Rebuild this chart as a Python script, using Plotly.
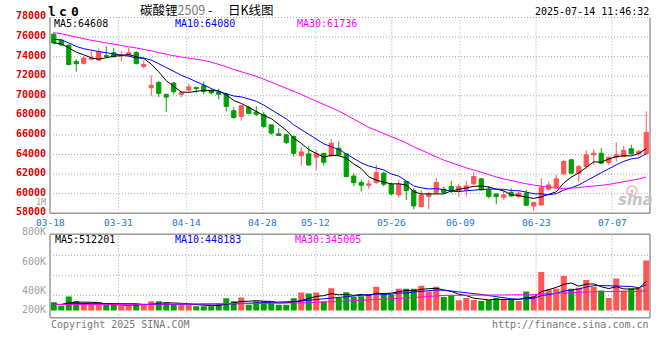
import plotly.graph_objects as go

W, H = 660, 360

# ---------------- data ----------------
dates = ["03-18","03-19","03-20","03-21","03-24","03-25","03-26","03-27","03-28","03-31",
         "04-01","04-02","04-03","04-07","04-08","04-09","04-10","04-11","04-14",
         "04-15","04-16","04-17","04-18","04-21","04-22","04-23","04-24","04-25","04-28",
         "04-29","04-30","05-06","05-07","05-08","05-09","05-12",
         "05-13","05-14","05-15","05-16","05-19","05-20","05-21","05-22","05-23","05-26",
         "05-27","05-28","05-29","05-30","06-03","06-04","06-05","06-06","06-09",
         "06-10","06-11","06-12","06-13","06-16","06-17","06-18","06-19","06-20","06-23",
         "06-24","06-25","06-26","06-27","06-30","07-01","07-02","07-03","07-04","07-07",
         "07-08","07-09","07-10","07-11","07-14"]
tick_labels = ["03-18","03-31","04-14","04-28","05-12","05-26","06-09","06-23","07-07"]

opens = [76300,75700,75180,73500,73310,73730,73650,74100,74400,74060,
         74160,74430,73000,70830,71370,70150,71300,70150,70590,70860,
         71040,70560,70390,70190,68480,67900,68820,68340,68070,67040,
         66120,66020,65840,63890,64070,63720,64130,63860,64650,64070,
         61810,61140,60870,61140,62100,60970,59880,61250,60330,58680,
         59710,60120,60460,60730,60220,60390,61010,61520,60390,59980,
         59640,60120,59710,60050,58750,58850,60460,60660,62030,63460,
         62100,62780,63970,64140,63190,63730,63800,64590,64080,64080]
highs = [76450,75750,75250,73720,74060,74570,74840,75050,74900,74570,
         74910,74570,73620,72090,71500,70200,71440,70560,71240,70900,
         71450,70730,70700,70320,68820,69100,68990,68920,68380,67040,
         66700,66120,65950,64750,64890,64480,64130,65600,65330,64100,
         62080,61420,61420,62960,62270,61140,61420,61250,60560,60390,
         60220,61590,60730,61320,61000,61320,62170,61520,60800,59980,
         60320,60560,60220,60390,59200,61590,61240,61930,63460,63560,
         62950,64420,64550,64650,63730,65240,64890,65000,64480,68410]
lows = [75250,75100,73100,72460,73200,73650,73600,73950,73950,73550,
        74090,73200,72830,70000,69870,68340,70150,69870,70420,70290,
        70190,70120,69640,68410,67650,67450,68130,67900,66700,66020,
        65880,65060,63790,62870,62830,62420,62870,63790,63860,61700,
        60780,60220,60500,61000,60730,59810,59600,59370,58410,58610,
        58410,59980,59980,60050,59710,59710,60900,60320,59540,58920,
        59370,59710,59540,58750,58270,58750,60320,60560,61930,62030,
        61240,62510,62950,63050,62920,63290,63730,63970,63800,64080]
closes = [75400,75200,73200,73280,73860,73860,74500,74030,73990,74200,
          74400,73310,73200,71070,70250,69870,70420,70320,70900,70730,
          70430,70290,70150,68920,67790,68990,68200,68130,66870,66190,
          65950,65230,64130,64270,62940,64100,63210,65160,63960,61740,
          61130,60870,61000,62170,60970,59980,60970,60330,58750,59880,
          59980,61140,60120,60320,60730,60800,61760,60390,59710,59710,
          59880,59770,60050,58820,59090,60660,60900,61520,63290,62100,
          62780,63970,64140,63120,63730,63970,64420,64080,64310,66260]
volumes = [144000,82000,246000,161000,99000,99000,99000,99000,99000,82000,
           82000,121000,99000,161000,161000,138000,99000,99000,99000,76000,
           76000,76000,110000,212000,161000,229000,99000,161000,161000,144000,
           99000,99000,212000,314000,297000,314000,161000,387000,218000,319000,
           235000,251000,280000,415000,297000,274000,382000,382000,382000,433000,
           330000,415000,235000,263000,178000,218000,183000,167000,183000,218000,
           201000,201000,167000,330000,263000,675000,365000,382000,602000,382000,
           398000,534000,415000,348000,218000,560000,348000,390000,390000,873000]

# sessions before 03-18 (only used so the moving averages start at the left edge)
prior_closes = [78200,78600,78900,78400,78700,78300,78500,78800,78100,77200,
                76900,76600,76500,75800,75200,74600,74300,74200,74100,74000,
                75600,76400,76800,76200,75500,75800,75200,75500,75200]
prior_volumes = [105000,98000,112000,95000,108000,101000,97000,110000,103000,99000,
                 106000,94000,102000,109000,96000,104000,100000,107000,98000,103000,
                 95000,111000,99000,104000,97000,102000,108000,96000,100000]

# legend readouts as printed on the chart
price_ma_text = ["MA5:64608", "MA10:64080", "MA30:61736"]
vol_ma_text = ["MA5:512201", "MA10:448183", "MA30:345005"]

n = len(dates)
xs = list(range(n))


def moving_avg(vals, prior, w):
    full = prior + vals
    out = []
    for i in range(len(vals)):
        j = len(prior) + i
        seg = full[j - w + 1:j + 1]
        out.append(sum(seg) / w)
    return out


ma5 = moving_avg(closes, prior_closes, 5)
ma10 = moving_avg(closes, prior_closes, 10)
ma30 = moving_avg(closes, prior_closes, 30)
vma5 = moving_avg(volumes, prior_volumes, 5)
vma10 = moving_avg(volumes, prior_volumes, 10)
vma30 = moving_avg(volumes, prior_volumes, 30)

RED = "#ff5555"
GREEN = "#00a000"
vol_colors = [RED if c >= o else GREEN for o, c in zip(opens, closes)]

# ---------------- geometry (pixels) ----------------
L, R = 50, 650
P_TOP, P_BOT = 17.5, 213.3
V_TOP, V_BOT = 234.3, 317.7
V_ZERO = 310.5
V_SCALE = 0.0572 / 1000.0  # px per unit volume


def fx(px):
    return px / W


def fy(py):
    return 1 - py / H


fig = go.Figure()

fig.add_trace(go.Candlestick(
    x=xs, open=opens, high=highs, low=lows, close=closes,
    increasing=dict(line=dict(color=RED, width=1), fillcolor=RED),
    decreasing=dict(line=dict(color=GREEN, width=1), fillcolor=GREEN),
    whiskerwidth=0, hovertext=dates, showlegend=False, xaxis="x", yaxis="y"))

for vals, col in [(ma5, "#000000"), (ma10, "#0000ff"), (ma30, "#ff00ff")]:
    fig.add_trace(go.Scatter(x=xs, y=vals, mode="lines", line=dict(color=col, width=1),
                             showlegend=False, hoverinfo="skip", xaxis="x", yaxis="y"))

fig.add_trace(go.Bar(x=xs, y=volumes, marker=dict(color=vol_colors, line=dict(width=0)),
                     showlegend=False, xaxis="x", yaxis="y2"))
for vals, col in [(vma5, "#000000"), (vma10, "#0000ff"), (vma30, "#ff00ff")]:
    fig.add_trace(go.Scatter(x=xs, y=vals, mode="lines", line=dict(color=col, width=1),
                             showlegend=False, hoverinfo="skip", xaxis="x", yaxis="y2"))

v_top_val = (V_ZERO - V_TOP) / V_SCALE
v_bot_val = -(V_BOT - V_ZERO) / V_SCALE

fig.update_layout(
    width=W, height=H, margin=dict(l=0, r=0, t=0, b=0),
    paper_bgcolor="white", plot_bgcolor="white",
    showlegend=False, bargap=0.2, boxgap=0.2,
    xaxis=dict(domain=[fx(L), fx(R)], range=[-0.5, n - 0.5], visible=False,
               rangeslider=dict(visible=False), fixedrange=True),
    yaxis=dict(domain=[fy(P_BOT), fy(P_TOP)], range=[58000, 78000], visible=False),
    yaxis2=dict(domain=[fy(V_BOT), fy(V_TOP)], range=[v_bot_val, v_top_val], visible=False,
                anchor="x"),
)

GRID = dict(color="#a8a8a8", width=1, dash="1px,2px")
FRAME = dict(color="#9a9a9a", width=1.5)
shapes = []
# horizontal price grid
for v in range(60000, 78000, 2000):
    shapes.append(dict(type="line", xref="paper", yref="y", x0=fx(L), x1=fx(R), y0=v, y1=v,
                       line=GRID, layer="below"))
# vertical grid at date ticks
for lab in tick_labels[1:]:
    d = dates.index(lab)
    px = L + d * (R - L) / (n - 1)
    shapes.append(dict(type="line", xref="paper", yref="paper", x0=fx(px), x1=fx(px),
                       y0=fy(P_BOT), y1=fy(P_TOP), line=GRID, layer="below"))
    shapes.append(dict(type="line", xref="paper", yref="paper", x0=fx(px), x1=fx(px),
                       y0=fy(V_BOT), y1=fy(V_TOP), line=GRID, layer="below"))
# volume horizontal grid
for py in [255.3, 275.3, 295.3]:
    shapes.append(dict(type="line", xref="paper", yref="paper", x0=fx(L), x1=fx(R),
                       y0=fy(py), y1=fy(py), line=GRID, layer="below"))
# frames
shapes.append(dict(type="line", xref="paper", yref="paper", x0=fx(L), x1=fx(R),
                   y0=fy(P_TOP), y1=fy(P_TOP), line=GRID))
for seg in [(L, P_TOP, L, P_BOT), (R, P_TOP, R, P_BOT), (L, P_BOT, R, P_BOT),
            (L, V_TOP, R, V_TOP), (L, V_BOT, R, V_BOT), (L, V_TOP, L, V_BOT), (R, V_TOP, R, V_BOT)]:
    shapes.append(dict(type="line", xref="paper", yref="paper", x0=fx(seg[0]), x1=fx(seg[2]),
                       y0=fy(seg[1]), y1=fy(seg[3]), line=FRAME))
# sina logo eye
shapes.append(dict(type="circle", xref="paper", yref="paper", x0=fx(627), x1=fx(637),
                   y0=fy(196), y1=fy(186), line=dict(color="#f3b0b0", width=1.5)))
shapes.append(dict(type="circle", xref="paper", yref="paper", x0=fx(630.5), x1=fx(633.5),
                   y0=fy(192.5), y1=fy(189.5), fillcolor="#f3b0b0", line=dict(width=0)))
fig.update_layout(shapes=shapes)

MONO = "DejaVu Sans Mono"
ann = []


def text(t, px, py, size=10, color="#000", xanchor="left", bold=False, family=MONO, italic=False):
    if bold:
        t = "<b>" + t + "</b>"
    if italic:
        t = "<i>" + t + "</i>"
    ann.append(dict(text=t, x=fx(px), y=fy(py), xref="paper", yref="paper", showarrow=False,
                    xanchor=xanchor, yanchor="middle", font=dict(family=family, size=size, color=color),
                    borderpad=0))


# lc0
for ch, cx in [("l", 51.7), ("c", 63.3), ("0", 75.0)]:
    text(ch, cx, 11.0, size=13, xanchor="center", bold=True)
# title
text("碳酸锂<span style='color:#7a7a7a'>2509</span> -", 139, 9.0, size=12.5,
     family="Noto Sans CJK SC")
text("日K线图", 227, 9.0, size=12.5, family="Noto Sans CJK SC")
# time stamp
text("2025-07-14 11:46:32", 650, 11.5, size=10, xanchor="right")
# price legend
text(price_ma_text[0], 53, 23.5, color="#000000")
text(price_ma_text[1], 174, 23.5, color="#0000ff")
text(price_ma_text[2], 296, 23.5, color="#ff00ff")
# volume legend
text(vol_ma_text[0], 54, 239, color="#000000")
text(vol_ma_text[1], 174, 239, color="#0000ff")
text(vol_ma_text[2], 294, 239, color="#ff00ff")
# price axis labels
for v in range(58000, 78001, 2000):
    py = P_BOT - (v - 58000) / 20000 * (P_BOT - P_TOP) - 1.5
    text(str(v), 46.5, py, size=10, color="#e00000", xanchor="right", bold=True)
text("1M", 46.5, 202.2, size=8.5, color="#a0a0a0", xanchor="right")
# volume axis labels
for lab, py in [("800K", 231), ("600K", 261), ("400K", 290), ("200K", 309.3)]:
    text(lab, 46.5, py, size=10, color="#a0a0a0", xanchor="right")
# date labels
for lab in tick_labels:
    d = dates.index(lab)
    px = L + d * (R - L) / (n - 1)
    text(lab, px, 222, size=9.5, color="#1a78d0", xanchor="center")
# footer
text("Copyright 2025 SINA.COM", 49.5, 324, size=10, color="#777777")
text("http://finance.sina.com.cn", 650, 324, size=10, color="#777777", xanchor="right")
# watermark
text("sina", 635, 200, size=15, color="#c4c4c4", xanchor="center", bold=True, italic=True,
     family="DejaVu Sans")

fig.update_layout(annotations=ann)
fig.write_html("out.html", config={"displayModeBar": False, "staticPlot": True},
               post_script="document.body.style.margin='0px';document.body.style.overflow='hidden';")
